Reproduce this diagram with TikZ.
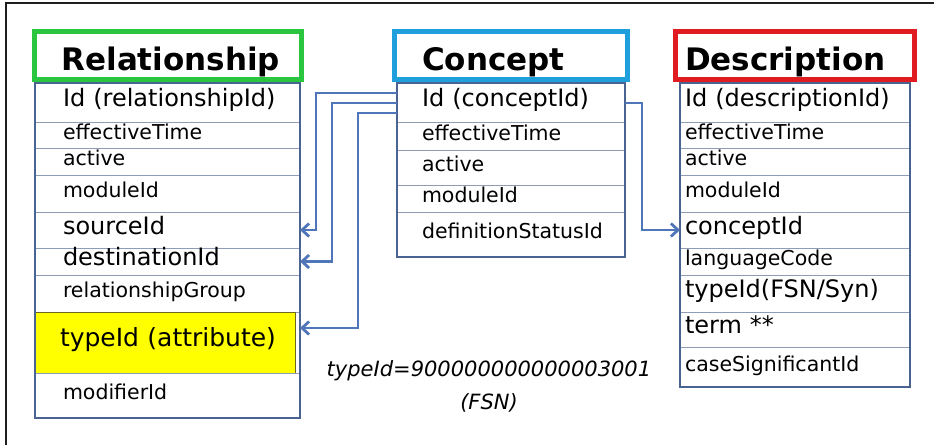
\documentclass[tikz,border=0pt]{standalone}
\usepackage{fontspec}
\setmainfont{DejaVu Sans}
\usetikzlibrary{arrows.meta,positioning,fit,calc}

\definecolor{framegray}{HTML}{1E1E1E}
\definecolor{tblblue}{HTML}{4A6491}
\definecolor{rowgray}{HTML}{8E9DB5}
\definecolor{linkblue}{HTML}{4F76B8}
\definecolor{hdgreen}{HTML}{2BC640}
\definecolor{hdblue}{HTML}{1FA0DC}
\definecolor{hdred}{HTML}{E11B22}
\definecolor{attryellow}{HTML}{FFFF00}

\begin{document}
\begin{tikzpicture}[x=1pt,y=-1pt,
  hdr/.style={draw,line width=5pt,fill=white,minimum height=48pt,inner ysep=0pt,outer sep=0pt,
    text height=31pt,text depth=0pt,align=left,font=\bfseries\fontsize{31}{34}\selectfont},
  row/.style={draw=rowgray,line width=0.8pt,inner sep=0pt,outer sep=0pt,align=left,anchor=north west,
    text height=0.9em,text depth=0.1em},
  rrow/.style={row,text width=265pt,execute at begin node=\hspace*{28pt}},
  crow/.style={row,text width=228pt,execute at begin node=\hspace*{25pt}},
  drow/.style={row,text width=230pt,execute at begin node=\hspace*{5pt}},
  sm/.style={font=\fontsize{20.5}{23}\selectfont},
  lg/.style={font=\fontsize{24}{26}\selectfont},
  tbl/.style={draw=tblblue,line width=2.5pt,inner sep=0pt},
  link/.style={draw=linkblue,line width=2.8pt,-{Straight Barb[length=7pt,width=13pt]}}]
\useasboundingbox (0,0) rectangle (938,445);
\draw[framegray,line width=2pt] (6,445) -- (6,3) -- (934,3);

% Relationship
\node[rrow,lg,minimum height=39pt] (rId) at (35,83) {Id (relationshipId)};
\node[rrow,sm,minimum height=26pt,below=0pt of rId] (rTime) {effectiveTime};
\node[rrow,sm,minimum height=27pt,below=0pt of rTime] (rAct) {active};
\node[rrow,sm,minimum height=37pt,below=0pt of rAct] (rMod) {moduleId};
\node[rrow,lg,minimum height=36pt,below=0pt of rMod] (rSrc) {sourceId};
\node[rrow,lg,minimum height=27pt,below=0pt of rSrc] (rDst) {destinationId};
\node[rrow,sm,minimum height=37pt,below=0pt of rDst] (rGrp) {relationshipGroup};
\node[row,fill=attryellow,draw=olive!70!black,text width=260pt,minimum height=61pt,
  execute at begin node=\hspace*{25pt},font=\fontsize{25}{27}\selectfont,
  below right=0pt and 0pt of rGrp.south west] (rType) {typeId (attribute)};
\node[rrow,sm,minimum height=45pt,below right=0pt and 0pt of rType.south west] (rModif) {modifierId};
\node[tbl,fit=(rId)(rModif)] (rTable) {};
\node[hdr,draw=hdgreen,text width=212pt,inner xsep=27.5pt,above=2.5pt of rTable] (rHead) {Relationship};

% Concept
\node[crow,lg,minimum height=39pt] (cId) at (397,83) {Id (conceptId)};
\node[crow,sm,minimum height=28pt,below=0pt of cId] (cTime) {effectiveTime};
\node[crow,sm,minimum height=35pt,below=0pt of cTime] (cAct) {active};
\node[crow,sm,minimum height=27pt,below=0pt of cAct] (cMod) {moduleId};
\node[crow,sm,minimum height=45pt,below=0pt of cMod] (cDef) {definitionStatusId};
\node[tbl,fit=(cId)(cDef)] (cTable) {};
\node[hdr,draw=hdblue,text width=178pt,inner xsep=27.5pt,above=2.5pt of cTable] (cHead) {Concept};

% Description
\node[drow,lg,minimum height=39pt] (dId) at (680,83) {Id (descriptionId)};
\node[drow,sm,minimum height=26pt,below=0pt of dId] (dTime) {effectiveTime};
\node[drow,sm,minimum height=27pt,below=0pt of dTime] (dAct) {active};
\node[drow,sm,minimum height=37pt,below=0pt of dAct] (dMod) {moduleId};
\node[drow,lg,minimum height=36pt,below=0pt of dMod] (dCon) {conceptId};
\node[drow,sm,minimum height=27pt,below=0pt of dCon] (dLang) {languageCode};
\node[drow,lg,minimum height=37pt,below=0pt of dLang] (dType) {typeId(FSN/Syn)};
\node[drow,lg,minimum height=35pt,below=0pt of dType] (dTerm) {term **};
\node[drow,sm,minimum height=40pt,below=0pt of dTerm] (dCase) {caseSignificantId};
\node[tbl,fit=(dId)(dCase)] (dTable) {};
\node[hdr,draw=hdred,text width=220pt,inner xsep=9.5pt,above=2.5pt of dTable] (dHead) {Description};

% links
\coordinate (tIn) at ($(rType.east)+(5,-14.5)$);
\draw[link] ([yshift=9.5pt]cId.west) -| ($(rSrc.east)+(16,0)$) -- (rSrc.east);
\draw[link] ([yshift=-0.5pt]cId.west) -| ($(rDst.east)+(32,0)$) -- (rDst.east);
\draw[link] ([yshift=-10.5pt]cId.west) -| ($(tIn)+(58,0)$) -- (tIn);
\draw[link] ([yshift=-0.5pt]cId.east) -| ($(dCon.west)+(-38,0)$) -- (dCon.west);

\node[align=center,font=\itshape\fontsize{21}{33}\selectfont] (note) at (489,386)
  {typeId=900000000000003001\\(FSN)};
\end{tikzpicture}
\end{document}
